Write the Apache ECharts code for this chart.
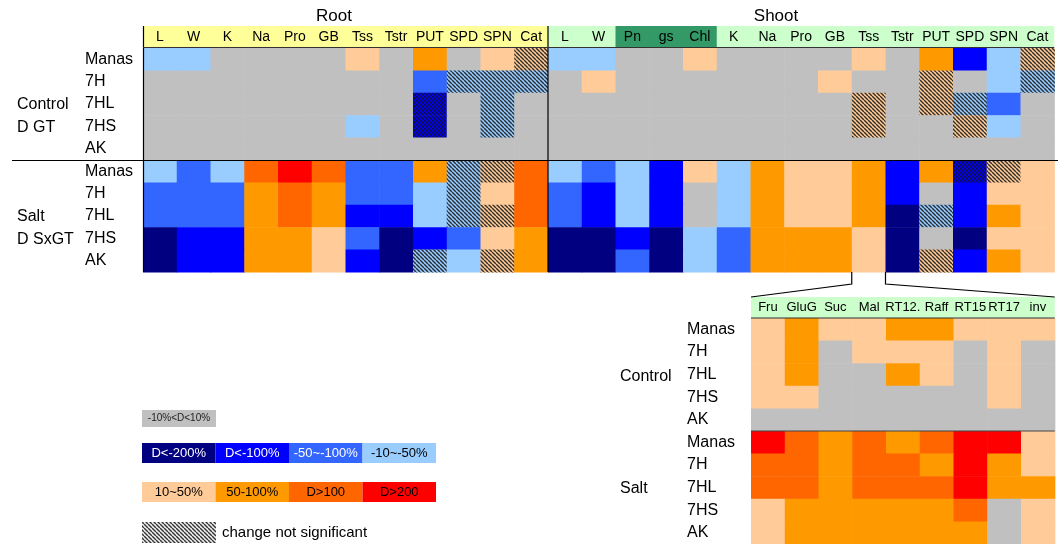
<!DOCTYPE html>
<html><head><meta charset="utf-8">
<script src="https://cdn.jsdelivr.net/npm/echarts@6/dist/echarts.min.js"></script>
<style>html,body{margin:0;padding:0;background:#fff}#c{width:1060px;height:544px}</style>
</head><body><div id="c"></div>
<script>
// ---------- data ----------
// levels: -4 D<-200%, -3 D<-100%, -2 -50~-100%, -1 -10~-50%, 0 -10%<D<10%, 1 10~50%, 2 50-100%, 3 D>100, 4 D>200
const rowLabels = ['Manas','7H','7HL','7HS','AK'];
const rootCols = ['L','W','K','Na','Pro','GB','Tss','Tstr','PUT','SPD','SPN','Cat'];
const shootCols = ['L','W','Pn','gs','Chl','K','Na','Pro','GB','Tss','Tstr','PUT','SPD','SPN','Cat'];
const sugarCols = ['Fru','GluG','Suc','Mal','RT12.5','Raff','RT15','RT17','inv'];

const rootControl = [
  [-1,-1,0,0,0,0,1,0,2,0,1,1],
  [0,0,0,0,0,0,0,0,-2,-1,-1,-1],
  [0,0,0,0,0,0,0,0,-3,0,-1,0],
  [0,0,0,0,0,0,-1,0,-3,0,-1,0],
  [0,0,0,0,0,0,0,0,0,0,0,0]
];
const rootControlNS = [
  [0,0,0,0,0,0,0,0,0,0,0,1],
  [0,0,0,0,0,0,0,0,0,1,1,1],
  [0,0,0,0,0,0,0,0,1,0,1,0],
  [0,0,0,0,0,0,0,0,1,0,1,0],
  [0,0,0,0,0,0,0,0,0,0,0,0]
];
const rootSalt = [
  [-1,-2,-1,3,4,3,-2,-2,2,-1,1,3],
  [-2,-2,-2,2,3,2,-2,-2,-1,-1,1,3],
  [-2,-2,-2,2,3,2,-3,-3,-1,-1,1,3],
  [-4,-3,-3,2,2,1,-2,-4,-3,-2,1,2],
  [-4,-3,-3,2,2,1,-3,-4,-1,-1,1,2]
];
const rootSaltNS = [
  [0,0,0,0,0,0,0,0,0,1,1,0],
  [0,0,0,0,0,0,0,0,0,1,0,0],
  [0,0,0,0,0,0,0,0,0,1,1,0],
  [0,0,0,0,0,0,0,0,0,0,0,0],
  [0,0,0,0,0,0,0,0,1,0,1,0]
];
const shootControl = [
  [-1,-1,0,0,1,0,0,0,0,1,0,2,-3,-1,1],
  [0,1,0,0,0,0,0,0,1,0,0,1,0,-1,-1],
  [0,0,0,0,0,0,0,0,0,1,0,1,-1,-2,0],
  [0,0,0,0,0,0,0,0,0,1,0,0,1,-1,0],
  [0,0,0,0,0,0,0,0,0,0,0,0,0,0,0]
];
const shootControlNS = [
  [0,0,0,0,0,0,0,0,0,0,0,0,0,0,1],
  [0,0,0,0,0,0,0,0,0,0,0,1,0,0,1],
  [0,0,0,0,0,0,0,0,0,1,0,1,1,0,0],
  [0,0,0,0,0,0,0,0,0,1,0,0,1,0,0],
  [0,0,0,0,0,0,0,0,0,0,0,0,0,0,0]
];
const shootSalt = [
  [-1,-2,-1,-3,1,-1,2,1,1,2,-3,2,-3,1,1],
  [-2,-3,-1,-3,0,-1,2,1,1,2,-3,0,-3,1,1],
  [-2,-3,-1,-3,0,-1,2,1,1,2,-4,-1,-3,2,1],
  [-4,-4,-3,-4,-1,-2,2,2,2,1,-4,0,-4,1,1],
  [-4,-4,-2,-4,-1,-2,2,2,2,1,-4,1,-3,2,1]
];
const shootSaltNS = [
  [0,0,0,0,0,0,0,0,0,0,0,0,1,1,0],
  [0,0,0,0,0,0,0,0,0,0,0,0,0,0,0],
  [0,0,0,0,0,0,0,0,0,0,0,1,0,0,0],
  [0,0,0,0,0,0,0,0,0,0,0,0,0,0,0],
  [0,0,0,0,0,0,0,0,0,0,0,1,0,0,0]
];
const sugarControl = [
  [1,2,1,1,2,2,1,1,1],
  [1,2,0,1,1,1,0,1,0],
  [1,2,0,0,2,1,0,1,0],
  [1,1,0,0,0,0,0,1,0],
  [0,0,0,0,0,0,0,0,0]
];
const sugarSalt = [
  [4,3,2,3,2,3,4,4,1],
  [3,3,2,3,3,2,4,2,1],
  [3,3,2,3,3,3,4,2,2],
  [1,2,2,2,2,2,3,0,1],
  [1,2,2,2,2,2,2,0,1]
];
const legendNeg = ['D<-200%','D<-100%','-50~-100%','-10~-50%'];
const legendPos = ['10~50%','50-100%','D>100','D>200'];
const legendZero = '-10%<D<10%';
const legendNS = 'change not significant';

// ---------- style ----------
const levelColors = ['#000080','#0000FF','#3366FF','#99CCFF','#C0C0C0','#FFCC99','#FF9900','#FF6600','#FF0000'];
const FONT = '"Liberation Sans", Arial, sans-serif';

const hatch = document.createElement('canvas');
hatch.width = 4; hatch.height = 4;
(function(){
  const g = hatch.getContext('2d');
  g.strokeStyle = 'rgba(20,20,20,0.85)';
  g.lineWidth = 1.45;
  for (const k of [-4,0,4]) { g.beginPath(); g.moveTo(k,0); g.lineTo(k+4,4); g.stroke(); }
})();
const hatchFill = {image: hatch, repeat: 'repeat'};

function build(ctrl, ctrlNS, salt, saltNS) {
  const out = [];
  [ctrl, salt].forEach((m, g) => m.forEach((row, r) => row.forEach((v, c) => {
    const ns = g ? (saltNS ? saltNS[r][c] : 0) : (ctrlNS ? ctrlNS[r][c] : 0);
    out.push([c, g * 5 + r, v, ns]);
  })));
  return out;
}
function renderItem(params, api) {
  const p = api.coord([api.value(0), api.value(1)]);
  const s = api.size([1, 1]);
  const shape = {x: p[0] - s[0] / 2, y: p[1] - s[1] / 2, width: s[0] + 0.6, height: s[1] + 0.6};
  const children = [{type: 'rect', shape, style: {fill: levelColors[api.value(2) + 4]}}];
  if (api.value(3)) children.push({type: 'rect', shape, style: {fill: hatchFill}});
  return {type: 'group', children};
}

const CW = 33.75;
const grids = [
  {left: 143, top: 48, width: CW * 12, height: 224},
  {left: 143 + CW * 12, top: 48, width: CW * 15, height: 224},
  {left: 751, top: 318, width: CW * 9, height: 226}
];
const rows10 = rowLabels.concat(rowLabels);
function xAx(i, cols, fs, w) {
  return {type: 'category', gridIndex: i, data: cols, position: 'top',
    axisLine: {show: false}, axisTick: {show: false}, splitLine: {show: false},
    axisLabel: {interval: 0, margin: 4, color: '#000', fontFamily: FONT, fontSize: fs,
      width: w, overflow: 'truncate', ellipsis: ''}};
}
function yAx(i, margin, show) {
  return {type: 'category', gridIndex: i, data: rows10, inverse: true,
    axisLine: {show: false}, axisTick: {show: false}, splitLine: {show: false},
    axisLabel: {show: show, interval: 0, margin: margin, align: 'left', color: '#000',
      fontFamily: FONT, fontSize: 16, padding: [3, 0, 0, 0]}};
}

const graphic = [];
const T = (x, y, text, fs, extra) => graphic.push(Object.assign({type: 'text', x, y, z: 50,
  style: Object.assign({text, fill: '#000', font: fs + 'px ' + FONT, textAlign: 'left', textVerticalAlign: 'middle'}, extra || {})}));
const R = (x, y, w, h, fill, z) => graphic.push({type: 'rect', z: z == null ? -5 : z, shape: {x, y, width: w, height: h}, style: {fill}});
const L = (pts, w, col) => graphic.push({type: 'polyline', z: 60, shape: {points: pts}, style: {stroke: col || '#000', lineWidth: w || 1, fill: null}});

// headers
const rootR = 143 + CW * 12, shootR = rootR + CW * 15;
R(143, 26, CW * 12, 21.5, '#FFFF99');
R(rootR, 26, CW * 15, 21.5, '#CCFFCC');
R(rootR + CW * 2, 26, CW * 3, 21.5, '#339966', -4);
R(751, 297, CW * 9, 21, '#CCFFCC');
T(334, 16, 'Root', 17, {textAlign: 'center'});
T(776, 16, 'Shoot', 17, {textAlign: 'center'});
// group labels
T(17, 105, 'Control', 16); T(17, 128, 'D GT', 16);
T(17, 217, 'Salt', 16); T(17, 240, 'D SxGT', 16);
T(620, 377, 'Control', 16); T(620, 489, 'Salt', 16);
// lines
L([[143.5, 26], [143.5, 272]], 1.2);
L([[rootR, 26], [rootR, 272]], 1.2);
L([[143, 47.5], [shootR, 47.5]], 1.2, '#333');
L([[12, 160.5], [1058, 160.5]], 1.2);
L([[751, 318], [751 + CW * 9, 318]], 1.2, '#333');
L([[751, 431], [751 + CW * 9, 431]], 1.2, '#444');
const tssL = rootR + CW * 9, tssR = rootR + CW * 10;
L([[tssL, 272], [tssL, 284], [751, 297]], 1.2);
L([[tssR, 272], [tssR, 284], [751 + CW * 9, 297]], 1.2);
// legend
R(142, 410, 74, 17, levelColors[4], 5);
T(179, 418.5, legendZero, 10, {textAlign: 'center', fill: '#222'});
legendNeg.forEach((t, i) => {
  R(142 + i * 73.5, 443, 73.5, 20, levelColors[i], 5);
  T(142 + i * 73.5 + 36.75, 453, t, 13, {textAlign: 'center', fill: i < 3 ? '#fff' : '#000'});
});
legendPos.forEach((t, i) => {
  R(142 + i * 73.5, 482, 73.5, 20, levelColors[5 + i], 5);
  T(142 + i * 73.5 + 36.75, 492, t, 13, {textAlign: 'center', fill: '#000'});
});
R(142, 522, 74, 21, '#f2f2f2', 5);
R(142, 522, 74, 21, hatchFill, 6);
T(222, 533, legendNS, 15);

const chart = echarts.init(document.getElementById('c'), null, {renderer: 'canvas'});
chart.setOption({
  animation: false,
  backgroundColor: '#fff',
  grid: grids,
  xAxis: [xAx(0, rootCols, 14, 40), xAx(1, shootCols, 14, 40), xAx(2, sugarCols, 13, 38)],
  yAxis: [yAx(0, 58, true), yAx(1, 0, false), yAx(2, 64, true)],
  series: [
    {type: 'custom', xAxisIndex: 0, yAxisIndex: 0, renderItem, data: build(rootControl, rootControlNS, rootSalt, rootSaltNS)},
    {type: 'custom', xAxisIndex: 1, yAxisIndex: 1, renderItem, data: build(shootControl, shootControlNS, shootSalt, shootSaltNS)},
    {type: 'custom', xAxisIndex: 2, yAxisIndex: 2, renderItem, data: build(sugarControl, null, sugarSalt, null)}
  ],
  graphic: graphic
});
</script>
</body></html>
